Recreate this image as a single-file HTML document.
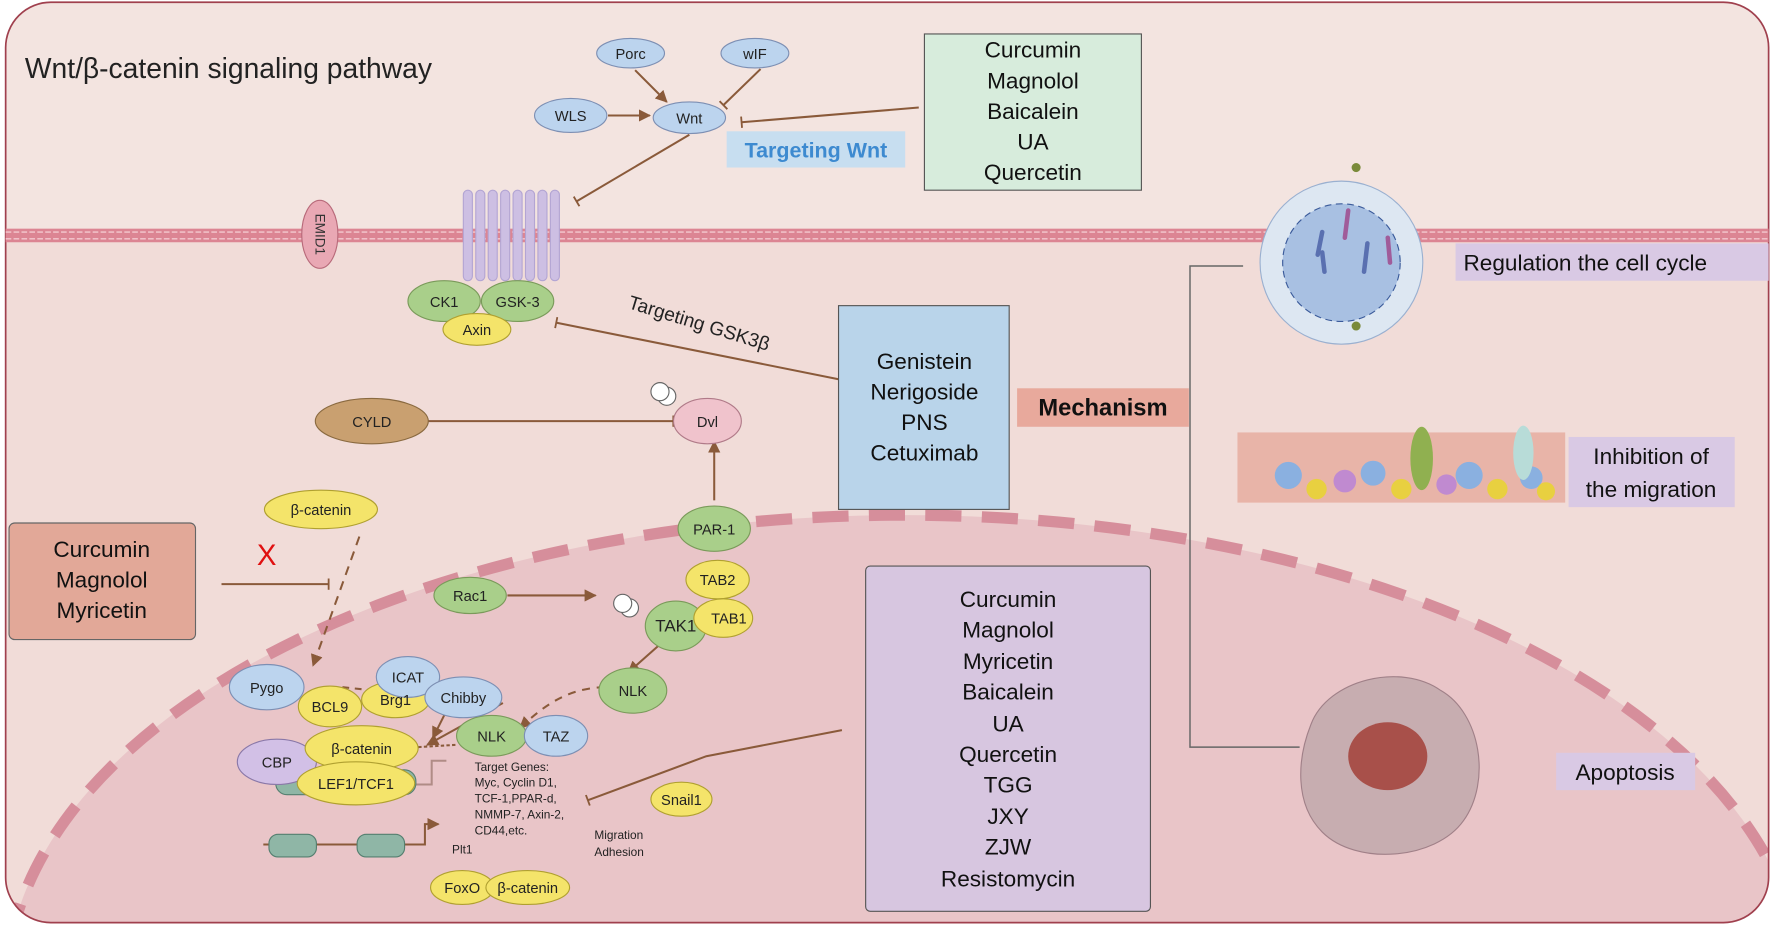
<!DOCTYPE html>
<html><head><meta charset="utf-8"><style>
html,body{margin:0;padding:0;background:#fff;overflow:hidden;width:1772px;height:926px;}
svg{display:block;}
text{font-family:"Liberation Sans",Arial,sans-serif;}
</style></head><body>
<svg width="1772" height="926" viewBox="0 0 1568 818" preserveAspectRatio="none">
<defs>
<marker id="ar" viewBox="0 0 10 10" refX="9" refY="5" markerWidth="6" markerHeight="6" orient="auto"><path d="M0,0 L10,5 L0,10 z" fill="#8a5a3a"/></marker>
<marker id="tb" viewBox="0 0 4 10" refX="2" refY="5" markerWidth="4" markerHeight="10" orient="auto" markerUnits="userSpaceOnUse"><rect x="1" y="0" width="1.6" height="10" fill="#8a5a3a"/></marker>
<clipPath id="cl"><rect x="5" y="2" width="1560" height="813" rx="40"/></clipPath>
</defs>
<rect width="1568" height="818" fill="#fff"/>
<g clip-path="url(#cl)">
<rect x="5" y="2" width="1560" height="813" fill="#f3e4e0"/>
<rect x="5" y="210" width="1560" height="610" fill="#f1dcd8"/>
<ellipse cx="800" cy="875" rx="795" ry="420" fill="#e9c5c8" stroke="#d68e9b" stroke-width="10" stroke-dasharray="32 18"/>
</g>
<rect x="5" y="2" width="1560" height="813" rx="40" fill="none" stroke="#a0404e" stroke-width="1.5"/>
<rect x="5" y="202" width="1560" height="12" fill="#dc8593"/>
<line x1="5" y1="205" x2="1565" y2="205" stroke="#f3c9cf" stroke-width="1.2" stroke-dasharray="5 2"/>
<line x1="5" y1="211" x2="1565" y2="211" stroke="#f3c9cf" stroke-width="1.2" stroke-dasharray="5 2"/>
<text x="22" y="69" font-size="25" fill="#222">Wnt/β-catenin signaling pathway</text>
<g fill="#cdbfe3" stroke="#b3a5d3" stroke-width="1">
<rect x="410" y="168" width="8" height="80" rx="4"/><rect x="421" y="168" width="8" height="80" rx="4"/>
<rect x="432" y="168" width="8" height="80" rx="4"/><rect x="443" y="168" width="8" height="80" rx="4"/>
<rect x="454" y="168" width="8" height="80" rx="4"/><rect x="465" y="168" width="8" height="80" rx="4"/>
<rect x="476" y="168" width="8" height="80" rx="4"/><rect x="487" y="168" width="8" height="80" rx="4"/>
</g>
<ellipse cx="283" cy="207" rx="16" ry="30" fill="#e9a8b4" stroke="#b86a7a"/>
<text x="283" y="207" font-size="12" text-anchor="middle" transform="rotate(90 283 207)" fill="#333" dy="4">EMID1</text>
<g stroke="#7d8fb3" stroke-width="1" fill="#bcd4ee">
<ellipse cx="558" cy="47" rx="30" ry="13"/><ellipse cx="668" cy="47" rx="30" ry="13"/>
<ellipse cx="505" cy="102" rx="32" ry="15"/><ellipse cx="610" cy="104" rx="32" ry="14"/>
</g>
<g font-size="13" text-anchor="middle" fill="#222">
<text x="558" y="52">Porc</text><text x="668" y="52">wIF</text><text x="505" y="107">WLS</text><text x="610" y="109">Wnt</text>
</g>
<g stroke="#8a5a3a" stroke-width="1.8" fill="none">
<line x1="562" y1="62" x2="590" y2="90" marker-end="url(#ar)"/>
<line x1="673" y1="61" x2="640" y2="93" marker-end="url(#tb)"/>
<line x1="538" y1="102" x2="575" y2="102" marker-end="url(#ar)"/>
<line x1="813" y1="95" x2="656" y2="108" marker-end="url(#tb)"/>
<line x1="610" y1="119" x2="510" y2="178" marker-end="url(#tb)"/>
<line x1="742" y1="335" x2="492" y2="285" marker-end="url(#tb)"/>
<line x1="377" y1="372" x2="596" y2="372" marker-end="url(#tb)"/>
<line x1="632" y1="442" x2="632" y2="390" marker-end="url(#ar)"/>
<line x1="196" y1="516" x2="291" y2="516" marker-end="url(#tb)"/>
<line x1="318" y1="474" x2="277" y2="588" stroke-dasharray="8 6" marker-end="url(#ar)"/>
<line x1="449" y1="526" x2="527" y2="526" marker-end="url(#ar)"/>
<line x1="582" y1="571" x2="556" y2="594" marker-end="url(#ar)"/>
<path d="M535,607 C500,608 480,625 460,643" stroke-dasharray="7 6" marker-end="url(#ar)"/>
<line x1="303" y1="607" x2="350" y2="612" stroke-dasharray="6 5" marker-end="url(#ar)"/>
<line x1="404" y1="610" x2="383" y2="652" marker-end="url(#ar)"/>
<line x1="445" y1="621" x2="378" y2="658" marker-end="url(#ar)"/>
<line x1="403" y1="658" x2="353" y2="661" stroke-dasharray="3 2" marker-end="url(#ar)"/>
<path d="M745,645 L625,668 L520,707" marker-end="url(#tb)"/>
<path d="M233,746 L376,746 L376,728 L388,728" marker-end="url(#ar)"/>
<line x1="238" y1="688" x2="260" y2="688"/>
</g>
<path d="M367,693 L382,693 L382,672 L395,672" stroke="#b08c86" stroke-width="1.8" fill="none"/>
<text x="236" y="499" font-size="26" fill="#e01010" text-anchor="middle">X</text>
<path d="M1100,235 L1053,235 L1053,660 L1150,660" stroke="#666" stroke-width="1.3" fill="none"/>
<g stroke="#7a9a5a" stroke-width="1" fill="#a9cf8a">
<ellipse cx="393" cy="266" rx="32" ry="18"/><ellipse cx="458" cy="266" rx="32" ry="18"/>
<ellipse cx="632" cy="467" rx="32" ry="20"/><ellipse cx="416" cy="526" rx="32" ry="16"/>
<ellipse cx="598" cy="553" rx="27" ry="22"/><ellipse cx="560" cy="610" rx="30" ry="20"/>
<ellipse cx="435" cy="650" rx="31" ry="18"/>
</g>
<g stroke="#b0a030" fill="#f4e46a">
<ellipse cx="422" cy="291" rx="30" ry="14"/>
<ellipse cx="284" cy="450" rx="50" ry="17"/>
<ellipse cx="635" cy="512" rx="28" ry="17"/><ellipse cx="640" cy="546" rx="26" ry="17"/>
<ellipse cx="292" cy="624" rx="28" ry="18"/><ellipse cx="350" cy="618" rx="30" ry="16"/>
<ellipse cx="603" cy="706" rx="27" ry="15"/>
<ellipse cx="409" cy="784" rx="28" ry="15"/><ellipse cx="467" cy="784" rx="37" ry="15"/>
</g>
<g fill="#8fb6a6" stroke="#557f70">
<rect x="244" y="680" width="124" height="22" rx="10"/>
<rect x="238" y="737" width="42" height="20" rx="8"/><rect x="316" y="737" width="42" height="20" rx="8"/>
</g>
<ellipse cx="245" cy="673" rx="35" ry="20" fill="#d2c0e6" stroke="#8a78a8"/>
<g fill="#f4e46a" stroke="#b0a030"><ellipse cx="320" cy="661" rx="50" ry="20"/><ellipse cx="315" cy="692" rx="52" ry="19"/></g>
<g stroke="#7d8fb3" fill="#bcd4ee">
<ellipse cx="236" cy="607" rx="33" ry="20"/><ellipse cx="361" cy="598" rx="28" ry="18"/>
<ellipse cx="410" cy="616" rx="34" ry="18"/><ellipse cx="492" cy="650" rx="28" ry="18"/>
</g>
<ellipse cx="329" cy="372" rx="50" ry="20" fill="#c9a070" stroke="#8a6a40"/>
<ellipse cx="626" cy="372" rx="30" ry="20" fill="#f0c3cc" stroke="#b07a88"/>
<circle cx="590" cy="350" r="8" fill="#fff" stroke="#666"/><circle cx="584" cy="346" r="8" fill="#fff" stroke="#666"/>
<circle cx="557" cy="537" r="8" fill="#fff" stroke="#666"/><circle cx="551" cy="533" r="8" fill="#fff" stroke="#666"/>
<g font-size="13" text-anchor="middle" fill="#222">
<text x="393" y="271">CK1</text><text x="458" y="271">GSK-3</text><text x="422" y="296">Axin</text>
<text x="329" y="377">CYLD</text><text x="626" y="377">Dvl</text><text x="284" y="455">β-catenin</text>
<text x="632" y="472">PAR-1</text><text x="416" y="531">Rac1</text><text x="635" y="517">TAB2</text><text x="645" y="551">TAB1</text>
<text x="598" y="558" font-size="15">TAK1</text><text x="560" y="615">NLK</text><text x="435" y="655">NLK</text>
<text x="236" y="612">Pygo</text><text x="361" y="603">ICAT</text><text x="410" y="621">Chibby</text><text x="492" y="655">TAZ</text>
<text x="292" y="629">BCL9</text><text x="350" y="623">Brg1</text><text x="245" y="678">CBP</text>
<text x="320" y="666">β-catenin</text><text x="315" y="697">LEF1/TCF1</text><text x="603" y="711">Snail1</text>
<text x="409" y="789">FoxO</text><text x="467" y="789">β-catenin</text>
</g>
<g font-size="10.5" fill="#222">
<text x="420" y="681">Target Genes:</text><text x="420" y="695">Myc, Cyclin D1,</text><text x="420" y="709">TCF-1,PPAR-d,</text>
<text x="420" y="723">NMMP-7, Axin-2,</text><text x="420" y="737">CD44,etc.</text><text x="400" y="754">Plt1</text>
<text x="526" y="741">Migration</text><text x="526" y="756">Adhesion</text>
</g>
<text x="555" y="272" font-size="17" fill="#222" transform="rotate(17 555 272)">Targeting GSK3β</text>
<rect x="818" y="30" width="192" height="138" fill="#d7ecdc" stroke="#555"/>
<g font-size="20" text-anchor="middle" fill="#111"><text x="914" y="51">Curcumin</text><text x="914" y="78">Magnolol</text><text x="914" y="105">Baicalein</text><text x="914" y="132">UA</text><text x="914" y="159">Quercetin</text></g>
<rect x="643" y="116" width="158" height="32" fill="#c7def0"/>
<text x="722" y="139" font-size="19" font-weight="bold" text-anchor="middle" fill="#3d8ad0">Targeting Wnt</text>
<rect x="742" y="270" width="151" height="180" fill="#b9d4ea" stroke="#555"/>
<g font-size="20" text-anchor="middle" fill="#111"><text x="818" y="326">Genistein</text><text x="818" y="353">Nerigoside</text><text x="818" y="380">PNS</text><text x="818" y="407">Cetuximab</text></g>
<rect x="900" y="343" width="152" height="34" fill="#e8a99c"/>
<text x="976" y="367" font-size="21" font-weight="bold" text-anchor="middle" fill="#111">Mechanism</text>
<rect x="8" y="462" width="165" height="103" rx="5" fill="#e2a898" stroke="#666"/>
<g font-size="20" text-anchor="middle" fill="#111"><text x="90" y="492">Curcumin</text><text x="90" y="519">Magnolol</text><text x="90" y="546">Myricetin</text></g>
<rect x="766" y="500" width="252" height="305" rx="4" fill="#d7c6e0" stroke="#555"/>
<g font-size="20" text-anchor="middle" fill="#111"><text x="892" y="536">Curcumin</text><text x="892" y="563">Magnolol</text><text x="892" y="591">Myricetin</text><text x="892" y="618">Baicalein</text><text x="892" y="646">UA</text><text x="892" y="673">Quercetin</text><text x="892" y="700">TGG</text><text x="892" y="728">JXY</text><text x="892" y="755">ZJW</text><text x="892" y="783">Resistomycin</text></g>
<circle cx="1187" cy="232" r="72" fill="#dde7f2" stroke="#9ab0d0"/>
<circle cx="1187" cy="232" r="52" fill="#a8c0e2" stroke="#3a5a9a" stroke-dasharray="6 4"/>
<g stroke-width="4" stroke-linecap="round"><line x1="1170" y1="205" x2="1166" y2="225" stroke="#5a70b0"/><line x1="1193" y1="186" x2="1190" y2="210" stroke="#a05c9a"/><line x1="1210" y1="215" x2="1207" y2="240" stroke="#5a70b0"/><line x1="1228" y1="210" x2="1230" y2="232" stroke="#a05c9a"/><line x1="1170" y1="223" x2="1172" y2="240" stroke="#5a70b0"/></g>
<circle cx="1200" cy="148" r="4" fill="#7a8a3a"/><circle cx="1200" cy="288" r="4" fill="#7a8a3a"/>
<rect x="1288" y="215" width="277" height="33" fill="#d9c9e4"/>
<text x="1295" y="239" font-size="20" fill="#111">Regulation the cell cycle</text>
<rect x="1095" y="382" width="290" height="62" fill="#e8b4a8"/>
<g fill="#8ab0e0"><circle cx="1140" cy="420" r="12"/><circle cx="1215" cy="418" r="11"/><circle cx="1300" cy="420" r="12"/><circle cx="1355" cy="422" r="10"/></g>
<g fill="#e8d040"><circle cx="1165" cy="432" r="9"/><circle cx="1240" cy="432" r="9"/><circle cx="1325" cy="432" r="9"/><circle cx="1368" cy="434" r="8"/></g>
<g fill="#c08ad0"><circle cx="1190" cy="425" r="10"/><circle cx="1280" cy="428" r="9"/></g>
<ellipse cx="1258" cy="405" rx="10" ry="28" fill="#90b050"/>
<ellipse cx="1348" cy="400" rx="9" ry="24" fill="#b8dcd8"/>
<rect x="1388" y="386" width="147" height="62" fill="#d9c9e4"/>
<text x="1461" y="410" font-size="20" text-anchor="middle" fill="#111">Inhibition of</text>
<text x="1461" y="439" font-size="20" text-anchor="middle" fill="#111">the migration</text>
<path d="M1160,640 C1175,600 1240,585 1275,610 C1310,630 1320,690 1295,725 C1270,760 1200,765 1170,735 C1145,710 1148,670 1160,640 z" fill="#c7adb0" stroke="#a08088"/>
<ellipse cx="1228" cy="668" rx="35" ry="30" fill="#a8504a"/>
<rect x="1377" y="665" width="123" height="33" fill="#d9c9e4"/>
<text x="1438" y="689" font-size="20" text-anchor="middle" fill="#111">Apoptosis</text>
</svg>
</body></html>
